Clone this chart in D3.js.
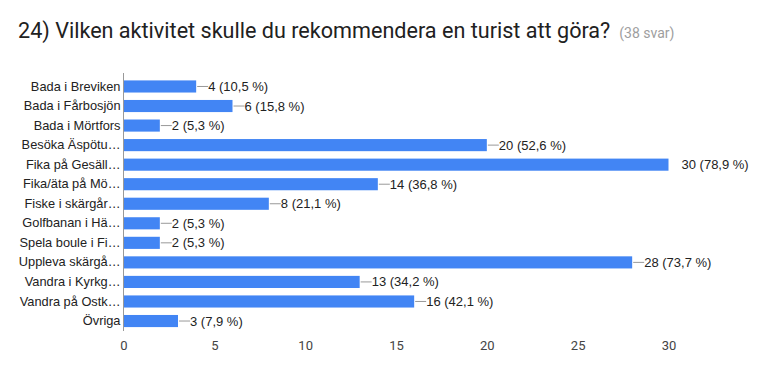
<!DOCTYPE html>
<html>
<head>
<meta charset="utf-8">
<script src="https://cdn.jsdelivr.net/npm/d3@7"></script>
<style>
  body { margin: 0; background: #fff; }
  svg { display: block; }
</style>
</head>
<body>
<svg id="chart" width="777" height="379"></svg>
<script>
// data
const categories = ["Bada i Breviken", "Bada i Fårbosjön", "Bada i Mörtfors", "Besöka Äspötu…",
  "Fika på Gesäll…", "Fika/äta på Mö…", "Fiske i skärgår…", "Golfbanan i Hä…",
  "Spela boule i Fi…", "Uppleva skärgå…", "Vandra i Kyrkg…", "Vandra på Ostk…", "Övriga"];
const counts = [4, 6, 2, 20, 30, 14, 8, 2, 2, 28, 13, 16, 3];
const percents = ["10,5", "15,8", "5,3", "52,6", "78,9", "36,8", "21,1", "5,3", "5,3", "73,7", "34,2", "42,1", "7,9"];
const xTicks = [0, 5, 10, 15, 20, 25, 30];
const title = "24) Vilken aktivitet skulle du rekommendera en turist att göra?";
const subtitle = "(38 svar)";

const svg = d3.select("#chart");

// title
const t = svg.append("text")
  .attr("x", 18).attr("y", 38)
  .attr("font-family", "Roboto, sans-serif")
  .attr("font-size", 21.6)
  .attr("fill", "#212121");
t.append("tspan").text(title);
t.append("tspan").attr("dx", 9).attr("font-size", 14).attr("fill", "#9e9e9e").text(subtitle);

const xScale = d3.scaleLinear().domain([0, 30]).range([123.5, 668.5]);
const yScale = d3.scaleBand().domain(categories).range([76.5, 331]).paddingInner(0.38).paddingOuter(0.2);

const chart = svg.append("g");

// bars
chart.selectAll("rect.bar")
  .data(categories)
  .enter()
  .append("rect")
  .attr("class", "bar")
  .attr("x", xScale(0))
  .attr("y", d => yScale(d))
  .attr("width", (d, i) => xScale(counts[i]) - xScale(0))
  .attr("height", yScale.bandwidth())
  .attr("fill", "#4285f4");

// connector lines + value labels
chart.selectAll("line.lead")
  .data(categories.filter((d, i) => counts[i] < 30))
  .enter()
  .append("line")
  .attr("class", "lead")
  .attr("x1", d => xScale(counts[categories.indexOf(d)]) + 1)
  .attr("x2", d => xScale(counts[categories.indexOf(d)]) + 12)
  .attr("y1", d => yScale(d) + yScale.bandwidth() / 2)
  .attr("y2", d => yScale(d) + yScale.bandwidth() / 2)
  .attr("stroke", "#999")
  .attr("stroke-width", 1);

chart.selectAll("text.val")
  .data(categories)
  .enter()
  .append("text")
  .attr("class", "val")
  .attr("x", (d, i) => xScale(counts[i]) + (counts[i] === 30 ? 13 : 12))
  .attr("y", d => yScale(d) + yScale.bandwidth() / 2)
  .attr("dy", "0.35em")
  .attr("font-family", "Liberation Sans, Arial, sans-serif")
  .attr("font-size", 13)
  .attr("fill", "#222")
  .text((d, i) => `${counts[i]} (${percents[i]} %)`);

// y axis
const yAxis = chart.append("g")
  .attr("transform", `translate(${xScale(0)},0)`)
  .call(d3.axisLeft(yScale).tickSize(0).tickPadding(3));
yAxis.select(".domain").remove();
yAxis.selectAll("text")
  .attr("font-family", "Liberation Sans, Arial, sans-serif")
  .attr("font-size", 12.8)
  .attr("fill", "#222");

chart.append("line")
  .attr("x1", xScale(0)).attr("x2", xScale(0))
  .attr("y1", 73).attr("y2", 331)
  .attr("stroke", "#999");

// x axis labels
const xAxis = chart.append("g")
  .attr("transform", "translate(0,341)")
  .call(d3.axisBottom(xScale).tickValues(xTicks).tickSize(0).tickPadding(0));
xAxis.select(".domain").remove();
xAxis.selectAll("text")
  .attr("font-family", "Roboto, sans-serif")
  .attr("font-size", 13)
  .attr("fill", "#444");
</script>
</body>
</html>
